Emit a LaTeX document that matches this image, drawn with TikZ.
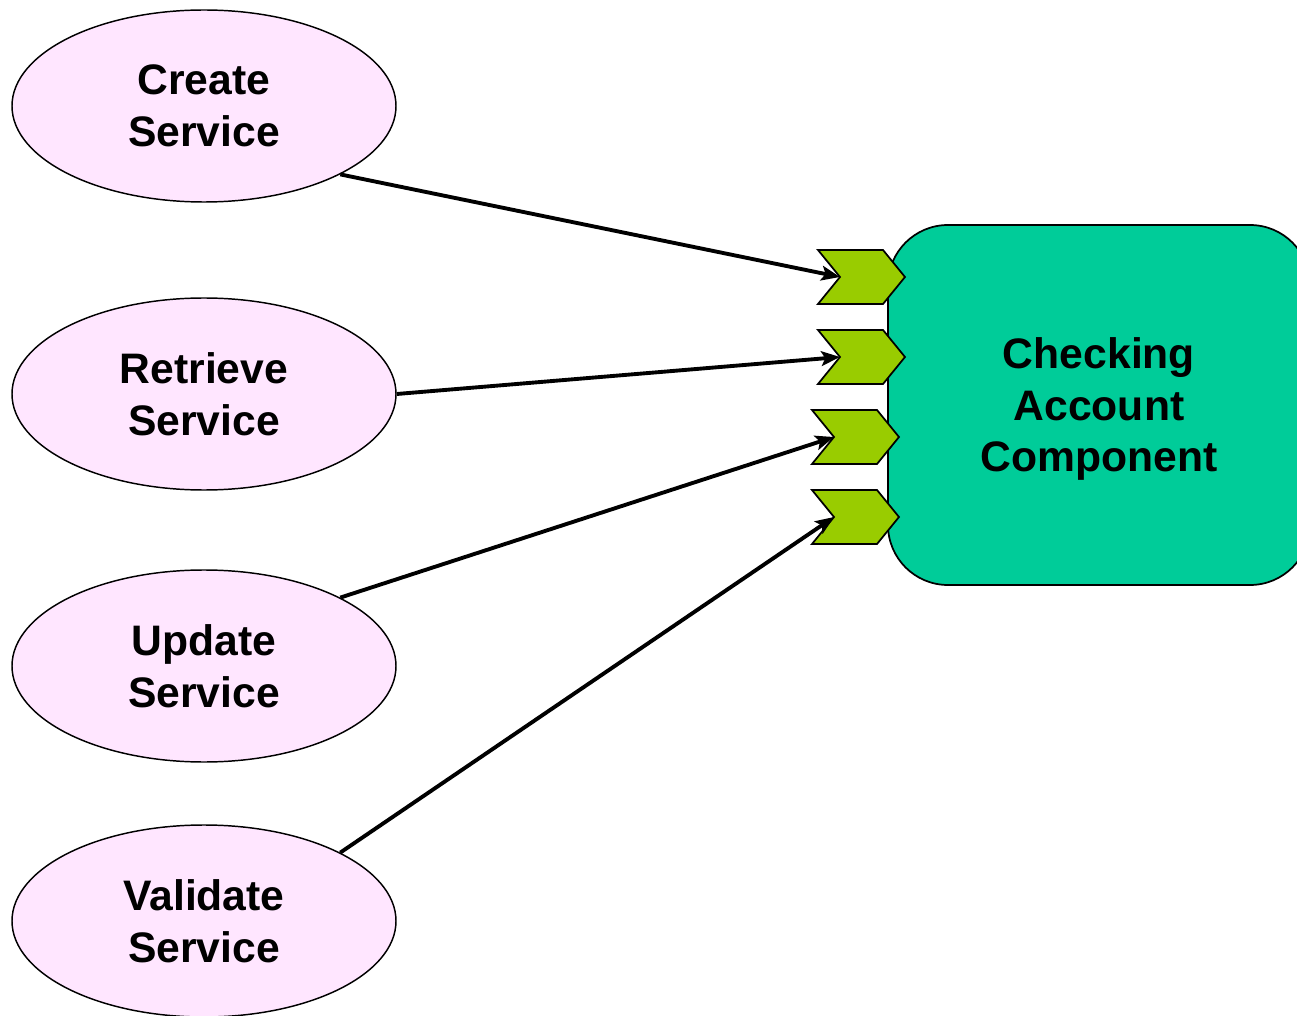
\documentclass[tikz,border=0pt]{standalone}
\usepackage{fontspec}
\setmainfont{Liberation Sans}
\usetikzlibrary{shapes.geometric,arrows.meta}
\definecolor{svcfill}{RGB}{255,230,255}
\definecolor{boxfill}{RGB}{0,204,153}
\definecolor{chevfill}{RGB}{153,204,0}
\tikzset{
  svc/.style={ellipse, draw=black, line width=1.1pt, fill=svcfill, minimum width=288pt, minimum height=144pt, inner sep=0pt, align=center, font=\fontsize{32}{39}\selectfont\bfseries},
  comp/.style={draw=black, line width=1.3pt, fill=boxfill, rounded corners=45pt, minimum width=316.5pt, minimum height=270pt},
  comptextstyle/.style={align=center, font=\fontsize{32}{38.5}\selectfont\bfseries},
  chevstyle/.style={draw=black, line width=1.3pt, fill=chevfill, line join=miter},
  arr/.style={line width=2.9pt, -{Stealth[length=14pt,width=11pt,inset=3pt]}},
  chev/.pic={
    \draw[chevstyle] (-22,-27) -- (43,-27) -- (65,0) -- (43,27) -- (-22,27) -- (0,0) -- cycle;
    \coordinate (-notch) at (0,0);
  }
}
\begin{document}
\begin{tikzpicture}[x=0.75pt,y=-0.75pt]
\useasboundingbox (0,0) rectangle (1297,1016);
\clip (0,0) rectangle (1297,1016);
\node[svc] (create) at (204,106) {Create\\Service};
\node[svc] (retrieve) at (204,394) {Retrieve\\Service};
\node[svc] (update) at (204,666) {Update\\Service};
\node[svc] (validate) at (204,921) {Validate\\Service};
\node[comp] (comp) at (1099,405) {};
\node[comptextstyle] (comptext) at (1099,409) {Checking\\Account\\Component};
\pic (c1) at (840,277) {chev};
\pic (c2) at (840,357) {chev};
\pic (c3) at (834,437) {chev};
\pic (c4) at (834,517) {chev};
\draw[arr] (create.south east) -- (c1-notch);
\draw[arr] (retrieve.east) -- (c2-notch);
\draw[arr] (update.north east) -- (c3-notch);
\draw[arr] (validate.north east) -- (c4-notch);
\end{tikzpicture}
\end{document}
